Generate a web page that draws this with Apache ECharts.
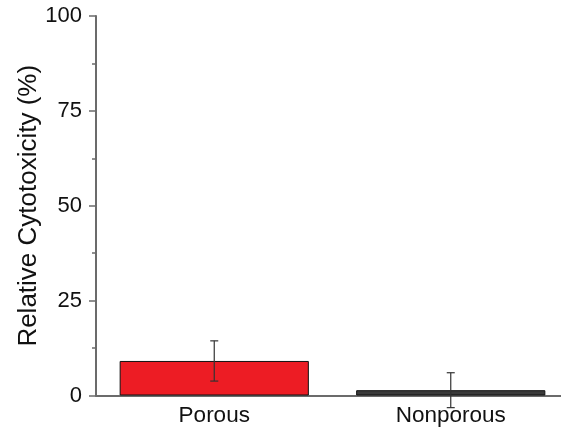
<!DOCTYPE html>
<html>
<head>
<meta charset="utf-8">
<script src="https://cdn.jsdelivr.net/npm/echarts@6/dist/echarts.min.js"></script>
<style>html,body{margin:0;padding:0;background:#fff;}#c{width:561px;height:431px;}</style>
</head>
<body>
<div id="c"></div>
<script>
const categories = ['Porous', 'Nonporous'];
const values = [9.1, 1.4];
const errors = [5.3, 4.6];
const barColors = ['#ed1c24', '#3a3a3a'];
const yTicks = [0, 25, 50, 75, 100];

const chart = echarts.init(document.getElementById('c'), null, {renderer: 'canvas'});
const axisColor = '#6b6b6b';
const font = '"Liberation Sans", Arial, sans-serif';

chart.setOption({
  animation: false,
  backgroundColor: '#fff',
  grid: {left: 96, top: 16, height: 379.5, width: 473, containLabel: false, outerBoundsMode: 'none'},
  xAxis: {
    type: 'category',
    data: categories,
    axisLine: {show: true, lineStyle: {color: axisColor, width: 2}},
    axisTick: {show: false},
    axisLabel: {fontFamily: font, fontSize: 22.5, color: '#111', margin: 9}
  },
  yAxis: {
    type: 'value',
    min: yTicks[0], max: yTicks[yTicks.length - 1], interval: 25,
    name: 'Relative Cytotoxicity (%)',
    nameLocation: 'middle',
    nameGap: 54,
    nameMoveOverlap: false,
    nameTextStyle: {fontFamily: font, fontSize: 26, color: '#111'},
    axisLine: {show: true, lineStyle: {color: axisColor, width: 2}},
    axisTick: {show: true, length: 7, lineStyle: {color: axisColor, width: 1.5}},
    minorTick: {show: true, splitNumber: 2, length: 4, lineStyle: {color: axisColor, width: 1.5}},
    splitLine: {show: false},
    axisLabel: {fontFamily: font, fontSize: 22, color: '#111', margin: 14}
  },
  series: [
    {
      type: 'bar',
      barWidth: '80%',
      data: values.map((v, i) => ({value: v, itemStyle: {color: barColors[i], borderColor: '#111', borderWidth: 1}}))
    },
    {
      type: 'custom',
      clip: false,
      z: 10,
      data: values.map((v, i) => [i, v, errors[i]]),
      encode: {x: 0, y: 1},
      renderItem: function (params, api) {
        const x = api.value(0), v = api.value(1), e = api.value(2);
        const hi = api.coord([x, v + e]);
        const lo = api.coord([x, v - e]);
        const hw = 4;
        const style = {stroke: '#333', lineWidth: 1.2};
        return {
          type: 'group',
          children: [
            {type: 'line', shape: {x1: hi[0], y1: hi[1], x2: lo[0], y2: lo[1]}, style: style},
            {type: 'line', shape: {x1: hi[0] - hw, y1: hi[1], x2: hi[0] + hw, y2: hi[1]}, style: style},
            {type: 'line', shape: {x1: lo[0] - hw, y1: lo[1], x2: lo[0] + hw, y2: lo[1]}, style: style}
          ]
        };
      }
    }
  ]
});
</script>
</body>
</html>
